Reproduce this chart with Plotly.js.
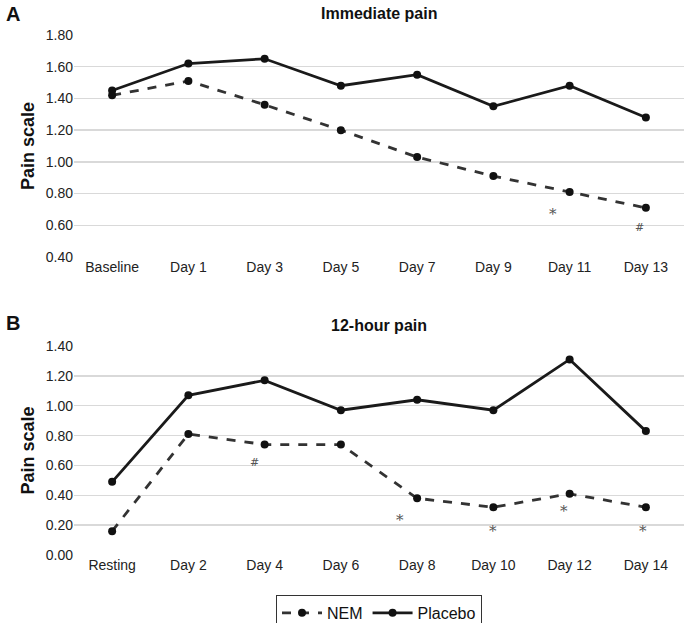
<!DOCTYPE html>
<html><head><meta charset="utf-8">
<script src="https://cdn.plot.ly/plotly-3.0.1.min.js"></script>
<style>html,body{margin:0;padding:0;background:#fff}#chart{width:688px;height:623px}</style>
</head><body><div id="chart"></div>
<script>
const catsA = ['Baseline','Day 1','Day 3','Day 5','Day 7','Day 9','Day 11','Day 13'];
const nemA = [1.42,1.51,1.36,1.20,1.03,0.91,0.81,0.71];
const placeboA = [1.45,1.62,1.65,1.48,1.55,1.35,1.48,1.28];
const catsB = ['Resting','Day 2','Day 4','Day 6','Day 8','Day 10','Day 12','Day 14'];
const nemB = [0.16,0.81,0.74,0.74,0.38,0.32,0.41,0.32];
const placeboB = [0.49,1.07,1.17,0.97,1.04,0.97,1.31,0.83];
const yTicksA = [0.4,0.6,0.8,1.0,1.2,1.4,1.6,1.8];
const yTicksB = [0,0.2,0.4,0.6,0.8,1.0,1.2,1.4];
// significance marks: [category index, symbol]
const marksA = [[6,'*'],[7,'#']];
const marksB = [[2,'#'],[4,'*'],[5,'*'],[6,'*'],[7,'*']];

const font = "Liberation Sans, Arial, sans-serif";
const nemStyle = {color:'#333', width:2.8, dash:'dash'};
const plcStyle = {color:'#1a1a1a', width:2.8};
const mk = {symbol:'circle', size:8, color:'#111'};

const traces = [
 {x:catsA, y:nemA, xaxis:'x', yaxis:'y', mode:'lines+markers', name:'NEM', line:nemStyle, marker:mk, showlegend:true},
 {x:catsA, y:placeboA, xaxis:'x', yaxis:'y', mode:'lines+markers', name:'Placebo', line:plcStyle, marker:mk, showlegend:true},
 {x:catsB, y:nemB, xaxis:'x2', yaxis:'y2', mode:'lines+markers', name:'NEM', line:nemStyle, marker:mk, showlegend:false},
 {x:catsB, y:placeboB, xaxis:'x2', yaxis:'y2', mode:'lines+markers', name:'Placebo', line:plcStyle, marker:mk, showlegend:false}
];

const fmt = v => v.toFixed(2);
const yax = (ticks, dom, rng) => ({domain:dom, range:rng, tickvals:ticks, ticktext:ticks.map(fmt),
  showgrid:true, gridcolor:'#d9d9d9', gridwidth:1.5, zeroline:false, showline:false, ticks:'',
  tickfont:{family:font,size:14,color:'#222'},
  title:{text:'<b>Pain scale</b>', font:{family:font,size:18,color:'#111'}, standoff:6}});
const xax = (anchor) => ({anchor:anchor, range:[-0.5,7.5], showgrid:false, zeroline:false, showline:false, ticks:'',
  tickfont:{family:font,size:14,color:'#222'}, type:'category'});

const ann = [];
const symAnn = (xr, yr, cat, yv, s, dx, dy) => ({xref:xr, yref:yr, x:cat, y:yv, text:s, showarrow:false,
  xshift:dx, yshift:dy, font:{family:"DejaVu Serif, serif",size:s==='*'?15:11,color:'#555'}});
marksA.forEach(([i,s]) => ann.push(symAnn('x','y',catsA[i],nemA[i],s, s==='*'?-17:-6, s==='*'?-22:-20)));
const shiftsB = {2:[-10,-18],4:[-17,-22],5:[0,-24],6:[-6,-17],7:[-3,-24]};
marksB.forEach(([i,s]) => ann.push(symAnn('x2','y2',catsB[i],nemB[i],s, shiftsB[i][0], shiftsB[i][1])));
ann.push({xref:'paper',yref:'paper',x:-0.115,y:0.978,xanchor:'left',yanchor:'middle',text:'<b>A</b>',showarrow:false,font:{family:font,size:20,color:'#111'}});
ann.push({xref:'paper',yref:'paper',x:-0.115,y:0.482,xanchor:'left',yanchor:'middle',text:'<b>B</b>',showarrow:false,font:{family:font,size:20,color:'#111'}});
ann.push({xref:'paper',yref:'paper',x:0.5,y:0.978,xanchor:'center',yanchor:'middle',text:'<b>Immediate pain</b>',showarrow:false,font:{family:font,size:16,color:'#111'}});
ann.push({xref:'paper',yref:'paper',x:0.5,y:0.477,xanchor:'center',yanchor:'middle',text:'<b>12-hour pain</b>',showarrow:false,font:{family:font,size:16,color:'#111'}});

const layout = {
  width:688, height:623, margin:{l:74,r:4,t:0,b:0,autoexpand:false},
  paper_bgcolor:'#fff', plot_bgcolor:'#fff',
  xaxis: xax('y'), yaxis: yax(yTicksA,[0.5875,0.9438],[0.4,1.8]),
  xaxis2: xax('y2'), yaxis2: yax(yTicksB,[0.1091,0.4446],[0,1.4]),
  showlegend:true,
  legend:{orientation:'h', x:0.5, xanchor:'center', y:0.045, yanchor:'top', bordercolor:'#333', borderwidth:1,
    font:{family:font,size:16,color:'#111'}, itemwidth:40},
  annotations: ann
};
Plotly.newPlot('chart', traces, layout, {displayModeBar:false, staticPlot:true});
</script></body></html>
